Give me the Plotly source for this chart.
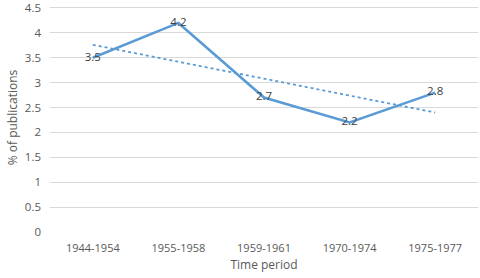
import numpy as np
import plotly.graph_objects as go

categories = ["1944-1954", "1955-1958", "1959-1961", "1970-1974", "1975-1977"]
values = [3.5, 4.2, 2.7, 2.2, 2.8]
y_ticks = [0, 0.5, 1, 1.5, 2, 2.5, 3, 3.5, 4, 4.5]
y_tick_labels = ["0", "0.5", "1", "1.5", "2", "2.5", "3", "3.5", "4", "4.5"]

# linear trendline (as Excel computes it)
xs = np.arange(1, len(values) + 1)
slope, intercept = np.polyfit(xs, values, 1)
trend = list(slope * xs + intercept)

fig = go.Figure()
fig.add_trace(go.Scatter(
    x=categories, y=trend, mode="lines",
    line=dict(color="#5B9BD5", width=1.8, dash="dot"),
    hoverinfo="skip", showlegend=False))
fig.add_trace(go.Scatter(
    x=categories, y=values, mode="lines+text",
    text=[str(v) for v in values], textposition="middle center",
    textfont=dict(family="Open Sans, sans-serif", size=11.5, color="#404040"),
    line=dict(color="#5B9BD5", width=2.6),
    showlegend=False))

fig.update_layout(
    width=480, height=278,
    margin=dict(l=50, r=2, t=0, b=46),
    paper_bgcolor="white", plot_bgcolor="white",
    font=dict(family="Open Sans, sans-serif", size=11, color="#595959"),
    xaxis=dict(
        type="category", showgrid=False, zeroline=False, showline=False,
        ticklabelstandoff=8,
        tickfont=dict(size=11, color="#595959"),
        title=dict(text="Time period", font=dict(size=12, color="#595959"), standoff=6),
        range=[-0.5, 4.5],
    ),
    yaxis=dict(
        range=[0, 4.6], tickvals=y_ticks, ticktext=y_tick_labels,
        showgrid=True, gridcolor="#D9D9D9", gridwidth=1,
        zeroline=False, showline=False,
        ticklabelstandoff=8, ticklabeloverflow="allow",
        tickfont=dict(size=11.5, color="#595959"),
        title=dict(text="% of publications", font=dict(size=12, color="#595959"), standoff=4),
    ),
)

fig.write_html("out.html", config={"displayModeBar": False},
               post_script="document.body.style.margin='0';")
